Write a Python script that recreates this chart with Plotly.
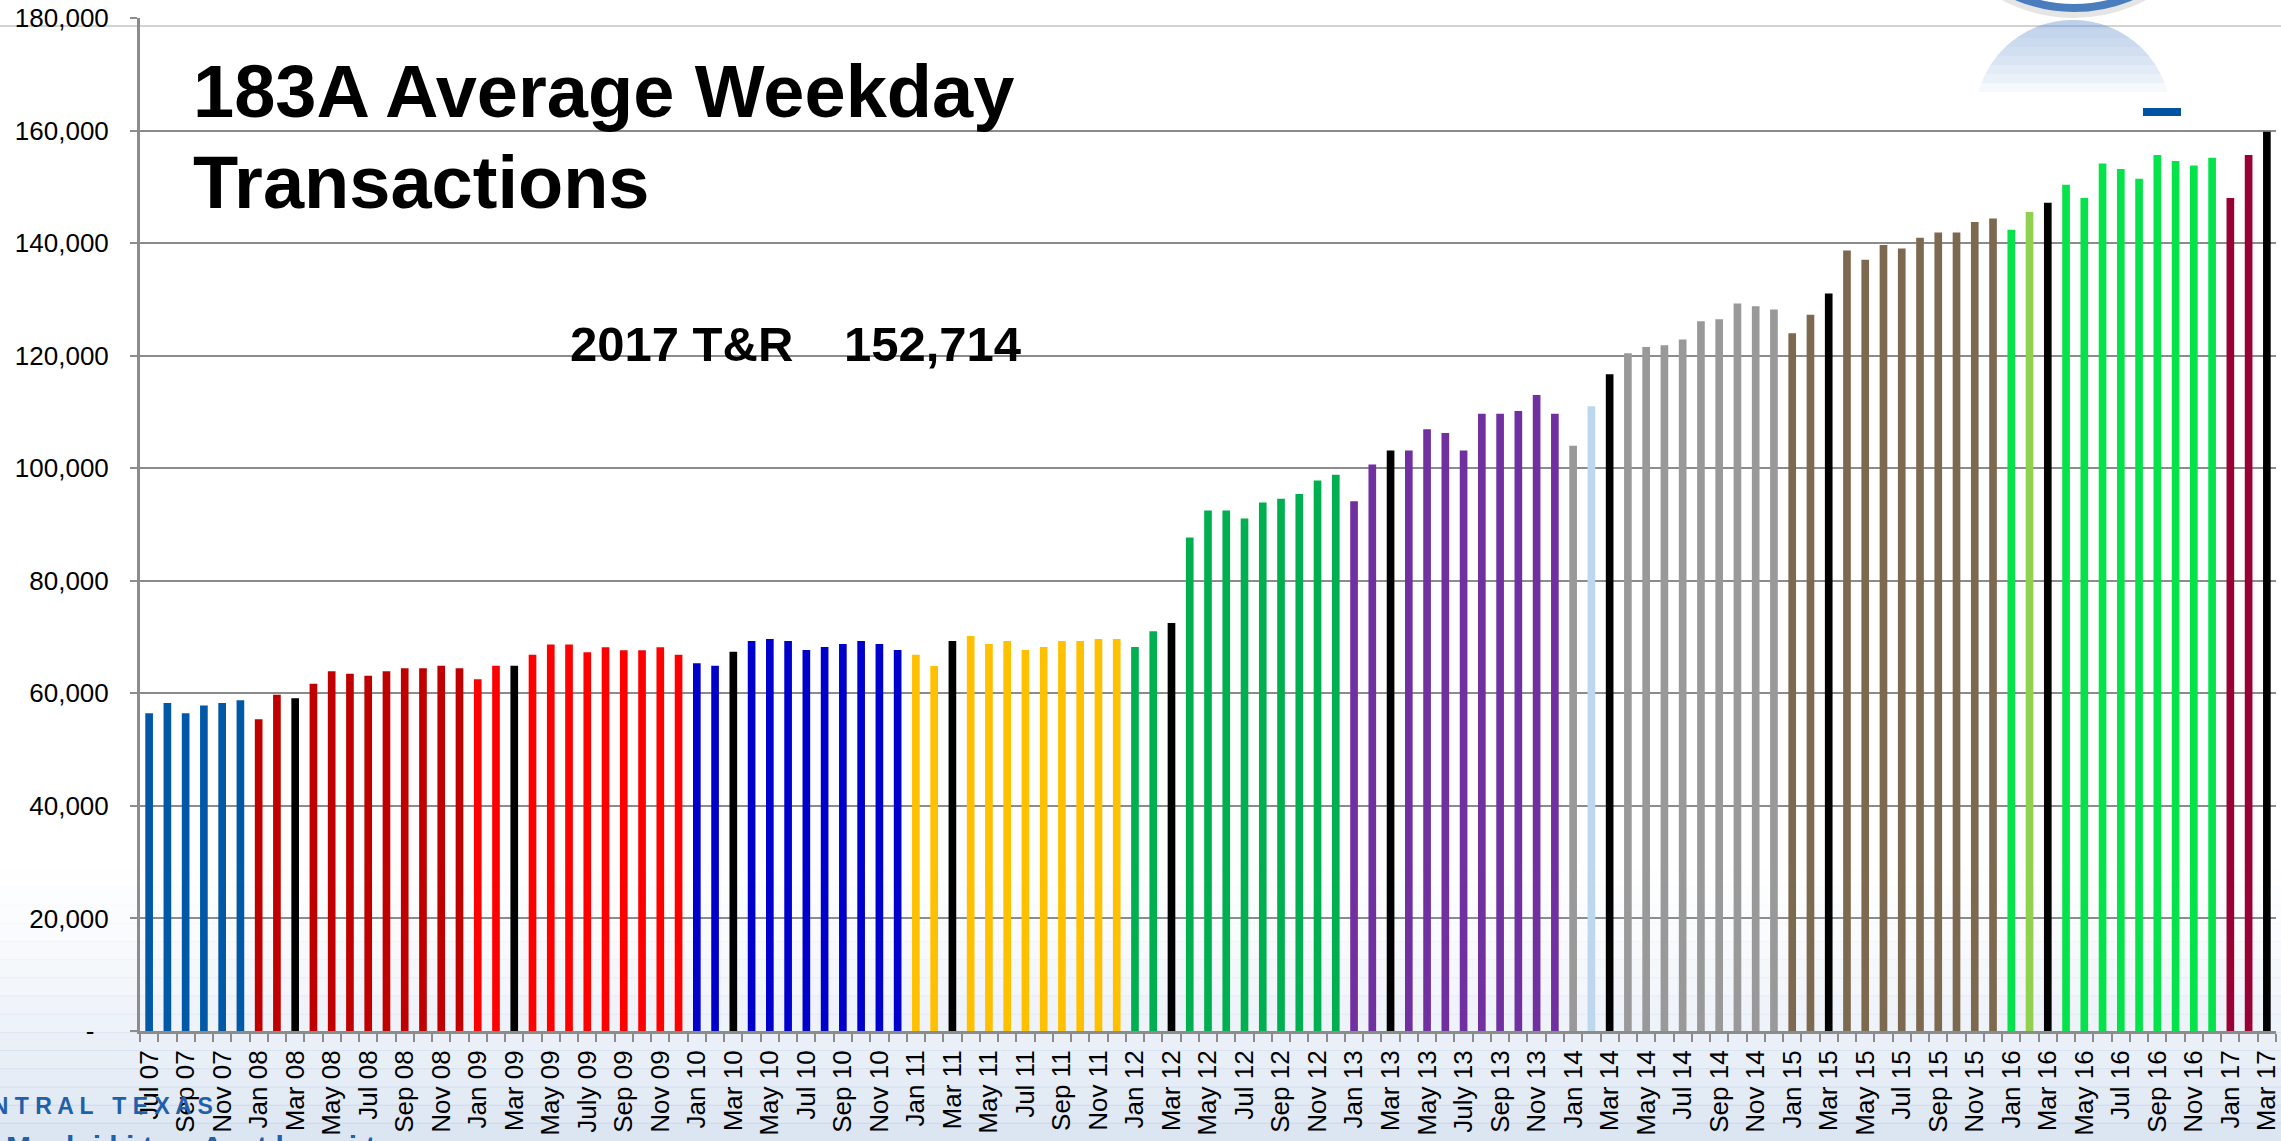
import plotly.graph_objects as go
import numpy as np

# ---------------- data ----------------
months_2007 = ["Jul 07", "Aug 07", "Sep 07", "Oct 07", "Nov 07", "Dec 07"]
months_2008 = ["Jan 08", "Feb 08", "Mar 08", "Apr 08", "May 08", "Jun 08", "Jul 08", "Aug 08", "Sep 08", "Oct 08", "Nov 08", "Dec 08"]
months_2009 = ["Jan 09", "Feb 09", "Mar 09", "Apr 09", "May 09", "Jun 09", "July 09", "Aug 09", "Sep 09", "Oct 09", "Nov 09", "Dec 09"]
months_2010 = ["Jan 10", "Feb 10", "Mar 10", "Apr 10", "May 10", "Jun 10", "Jul 10", "Aug 10", "Sep 10", "Oct 10", "Nov 10", "Dec 10"]
months_2011 = ["Jan 11", "Feb 11", "Mar 11", "Apr 11", "May 11", "Jun 11", "Jul 11", "Aug 11", "Sep 11", "Oct 11", "Nov 11", "Dec 11"]
months_2012 = ["Jan 12", "Feb 12", "Mar 12", "Apr 12", "May 12", "Jun 12", "Jul 12", "Aug 12", "Sep 12", "Oct 12", "Nov 12", "Dec 12"]
months_2013 = ["Jan 13", "Feb 13", "Mar 13", "Apr 13", "May 13", "Jun 13", "July 13", "Aug 13", "Sep 13", "Oct 13", "Nov 13", "Dec 13"]
months_2014 = ["Jan 14", "Feb 14", "Mar 14", "Apr 14", "May 14", "Jun 14", "Jul 14", "Aug 14", "Sep 14", "Oct 14", "Nov 14", "Dec 14"]
months_2015 = ["Jan 15", "Feb 15", "Mar 15", "Apr 15", "May 15", "Jun 15", "Jul 15", "Aug 15", "Sep 15", "Oct 15", "Nov 15", "Dec 15"]
months_2016 = ["Jan 16", "Feb 16", "Mar 16", "Apr 16", "May 16", "Jun 16", "Jul 16", "Aug 16", "Sep 16", "Oct 16", "Nov 16", "Dec 16"]
months_2017 = ["Jan 17", "Feb 17", "Mar 17"]

tx_2007 = [56450, 58290, 56450, 57860, 58290, 58780]
tx_2008 = [55410, 59760, 59140, 61710, 63920, 63490, 63120, 63920, 64470, 64470, 64900, 64470]
tx_2009 = [62510, 64900, 64900, 66860, 68690, 68690, 67290, 68200, 67650, 67650, 68200, 66860]
tx_2010 = [65360, 64880, 67370, 69280, 69670, 69280, 67700, 68220, 68750, 69280, 68750, 67700]
tx_2011 = [66840, 64870, 69280, 70200, 68750, 69280, 67700, 68220, 69280, 69280, 69670, 69670]
tx_2012 = [68220, 71050, 72500, 87680, 92480, 92480, 91060, 93890, 94590, 95440, 97820, 98860]
tx_2013 = [94110, 100660, 103130, 103130, 106930, 106260, 103130, 109680, 109680, 110160, 113000, 109680]
tx_2014 = [103990, 111010, 116710, 120410, 121550, 121830, 122870, 126100, 126450, 129250, 128800, 128220]
tx_2015 = [123980, 127280, 131050, 138700, 137060, 139650, 139060, 140940, 141880, 141880, 143770, 144360]
tx_2016 = [142360, 145540, 147190, 150370, 148010, 154130, 153190, 151420, 155660, 154600, 153780, 155190]
tx_2017 = [148010, 155660, 159800]

y_tick_vals = [0, 20000, 40000, 60000, 80000, 100000, 120000, 140000, 160000, 180000]
y_tick_text = ["-\u00a0\u00a0", "20,000", "40,000", "60,000", "80,000", "100,000",
               "120,000", "140,000", "160,000", "180,000"]

title_line1 = "183A Average Weekday"
title_line2 = "Transactions"
tr_label = "2017 T&R"
tr_value = "152,714"

months = (months_2007 + months_2008 + months_2009 + months_2010 + months_2011 + months_2012
          + months_2013 + months_2014 + months_2015 + months_2016 + months_2017)
transactions = (tx_2007 + tx_2008 + tx_2009 + tx_2010 + tx_2011 + tx_2012
                + tx_2013 + tx_2014 + tx_2015 + tx_2016 + tx_2017)

# ---------------- styles ----------------
year_colors = {
    "07": "#0058A6", "08": "#C00000", "09": "#FF0000", "10": "#0000CC",
    "11": "#FFC000", "12": "#00B050", "13": "#7030A0", "14": "#999999",
    "15": "#7D6950", "16": "#05E34A", "17": "#990033",
}
special_colors = {"Feb 14": "#BDD7EE", "Feb 16": "#92D050"}


def bar_color(label):
    if label in special_colors:
        return special_colors[label]
    if label.startswith("Mar"):
        return "#000000"
    return year_colors[label[-2:]]


colors = [bar_color(m) for m in months]
tick_text = [m if i % 2 == 0 else "" for i, m in enumerate(months)]

W, H = 2281, 1141
L, R, T, B = 140, 2276, 18, 1031
GRID = "#8C8C8C"
FONT = "Liberation Sans, Arial, sans-serif"


def px(x):
    return (x - L) / (R - L)


def py(y):
    return (B - y) / (B - T)


fig = go.Figure(go.Bar(
    x=months, y=transactions,
    marker=dict(color=colors, line=dict(width=0)),
    hoverinfo="x+y",
))

shapes = []
# soft bluish background gradient at the bottom of the slide
n_strips = 16
y0s = np.linspace(850, H, n_strips + 1)
for k in range(n_strips):
    a = 0.40 * ((k + 0.5) / n_strips) ** 1.4
    shapes.append(dict(type="rect", xref="paper", yref="paper", layer="below",
                       x0=px(0), x1=px(W), y0=py(y0s[k]), y1=py(y0s[k + 1] + 1),
                       line=dict(width=0), fillcolor=f"rgba(165,190,222,{a:.3f})"))
# thin header line of the slide
shapes.append(dict(type="line", xref="paper", yref="paper", layer="below",
                   x0=px(0), x1=px(W), y0=py(26), y1=py(26),
                   line=dict(color="#C4C4C4", width=1.5)))
# logo reflection (top right)
cx, cy, rr = 2073, 118, 98
theta = np.linspace(0, 2 * np.pi, 181)
for k in range(8):
    ycut = 20 + 9 * (k + 1)
    pts = [(cx + rr * np.cos(t), cy + rr * np.sin(t)) for t in theta]
    pts = [(x, min(y, ycut)) for x, y in pts]
    path = "M " + " L ".join(f"{px(x):.5f},{py(y):.5f}" for x, y in pts) + " Z"
    shapes.append(dict(type="path", xref="paper", yref="paper", layer="below", path=path,
                       line=dict(width=0), fillcolor="rgba(120,160,215,0.07)"))
# logo ring (cut off at top)
rc, ccx, ccy = 147, 2074, -139
shapes.append(dict(type="circle", xref="paper", yref="paper", layer="above",
                   x0=px(ccx - rc - 3), x1=px(ccx + rc + 3), y0=py(ccy - rc - 3), y1=py(ccy + rc + 5),
                   line=dict(color="rgba(0,0,0,0.10)", width=10)))
shapes.append(dict(type="circle", xref="paper", yref="paper", layer="above",
                   x0=px(ccx - rc), x1=px(ccx + rc), y0=py(ccy - rc), y1=py(ccy + rc),
                   line=dict(color="#4A7DBD", width=8)))
# small blue dash
shapes.append(dict(type="rect", xref="paper", yref="paper", layer="above",
                   x0=px(2143), x1=px(2181), y0=py(108), y1=py(116),
                   line=dict(width=0), fillcolor="#0053A3"))

annotations = [
    dict(text=f"<b>{title_line1}</b>", x=px(191), y=py(91.5), xanchor="left", yanchor="middle",
         font=dict(family=FONT, size=74, color="#000000")),
    dict(text=f"<b>{title_line2}</b>", x=px(191), y=py(182.5), xanchor="left", yanchor="middle",
         font=dict(family=FONT, size=74, color="#000000")),
    dict(text=f"<b>{tr_label}</b>", x=px(568), y=py(343.5), xanchor="left", yanchor="middle",
         font=dict(family=FONT, size=49, color="#000000")),
    dict(text=f"<b>{tr_value}</b>", x=px(842), y=py(343.5), xanchor="left", yanchor="middle",
         font=dict(family=FONT, size=49, color="#000000")),
    dict(text="<b>C E N T R A L   T E X A S</b>", x=px(215), y=py(1106), xanchor="right",
         yanchor="middle", font=dict(family=FONT, size=23, color="#1F60AB")),
    dict(text="<b>M o b i l i t y   A u t h o r i t y</b>", x=px(4), y=py(1146), xanchor="left",
         yanchor="middle", font=dict(family=FONT, size=30, color="#1F60AB")),
]
for a in annotations:
    a.update(xref="paper", yref="paper", showarrow=False)

fig.update_layout(
    width=W, height=H,
    margin=dict(l=L, r=W - R, t=T, b=H - B, autoexpand=False),
    paper_bgcolor="#FFFFFF", plot_bgcolor="rgba(0,0,0,0)",
    bargap=0.58, showlegend=False,
    shapes=shapes, annotations=annotations,
    xaxis=dict(
        type="category", categoryorder="array", categoryarray=months,
        tickmode="array", tickvals=months, ticktext=tick_text,
        tickangle=-90, tickson="boundaries",
        ticks="outside", ticklen=8, tickwidth=2, tickcolor=GRID,
        showline=True, linecolor=GRID, linewidth=3,
        showgrid=False, automargin=False, ticklabelstandoff=6,
        tickfont=dict(family=FONT, size=26, color="#000000"),
    ),
    yaxis=dict(
        range=[0, 180000], tickmode="array", tickvals=y_tick_vals, ticktext=y_tick_text,
        showgrid=True, gridcolor=GRID, gridwidth=2, zeroline=False,
        showline=True, linecolor=GRID, linewidth=3,
        ticks="outside", ticklen=7, tickwidth=2, tickcolor=GRID,
        automargin=False, ticklabelstandoff=16,
        tickfont=dict(family=FONT, size=26, color="#000000"),
    ),
)

fig.write_html(
    "out.html",
    config={"displayModeBar": False},
    post_script="document.body.style.margin='0';document.body.style.overflow='hidden';",
)
